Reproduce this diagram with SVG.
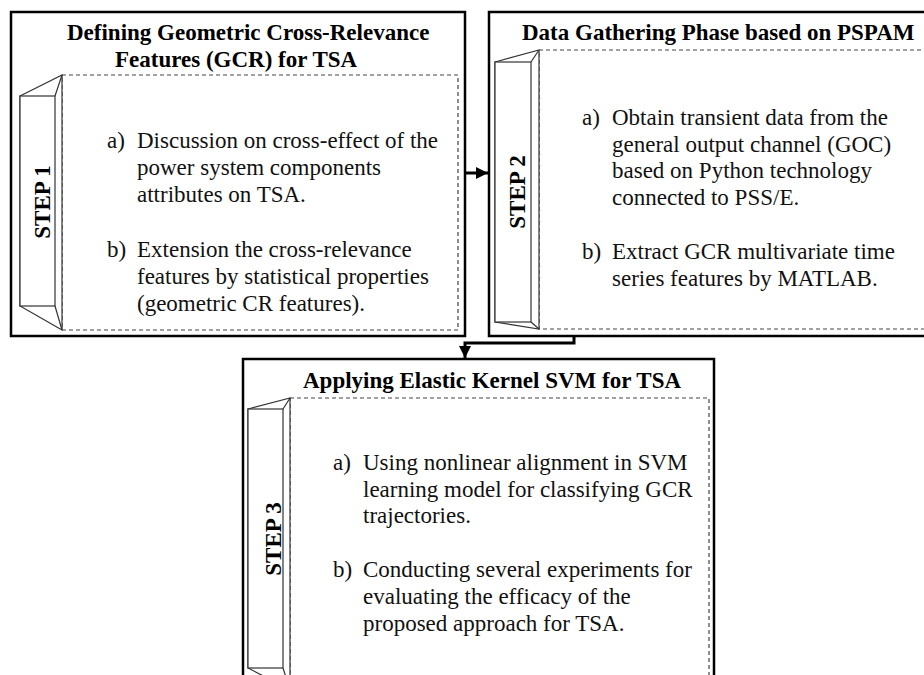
<svg xmlns="http://www.w3.org/2000/svg" width="924" height="675" viewBox="0 0 924 675">
  <style>
    .frame { fill: #fff; stroke: #000; stroke-width: 2.5; }
    .inner { fill: none; stroke: #444; stroke-width: 1.2; stroke-dasharray: 4 3; }
    .prism { fill: #fff; stroke: #333; stroke-width: 1.2; stroke-linejoin: miter; }
    text { font-family: "Liberation Serif", "Times New Roman", serif; font-size: 23px; }
    .title { font-weight: bold; fill: #000; }
    .step { font-weight: bold; fill: #000; text-anchor: middle; }
    .item { fill: #111; }
    .conn { fill: none; stroke: #000; stroke-width: 3; }
  </style>
  <defs>
    <marker id="arrow" viewBox="0 0 10 10" refX="10" refY="5" markerWidth="4" markerHeight="4" orient="auto" markerUnits="strokeWidth">
      <path d="M0,0 L10,5 L0,10 z" fill="#000"/>
    </marker>
  </defs>
  <rect width="924" height="675" fill="#fff"/>

  <!-- Step 1 -->
  <g id="step1">
    <rect class="frame" x="11" y="12" width="454" height="324"/>
    <text class="title" x="67" y="40">Defining Geometric Cross-Relevance</text>
    <text class="title" x="115" y="67">Features (GCR) for TSA</text>
    <rect class="inner" x="62" y="75" width="396" height="255"/>
    <path class="prism" d="M20,96 L62,75 L62,330 L20,306 z"/>
    <rect class="prism" x="20" y="96" width="35" height="210"/>
    <path class="prism" d="M55,96 L62,75 M55,306 L62,330"/>
    <text class="step" transform="translate(50,202) rotate(-90)">STEP 1</text>
    <text class="item" x="107" y="148">a)</text>
    <text class="item" x="137" y="148">Discussion on cross-effect of the</text>
    <text class="item" x="137" y="175">power system components</text>
    <text class="item" x="137" y="202">attributes on TSA.</text>
    <text class="item" x="107" y="257">b)</text>
    <text class="item" x="137" y="257">Extension the cross-relevance</text>
    <text class="item" x="137" y="284">features by statistical properties</text>
    <text class="item" x="137" y="311">(geometric CR features).</text>
  </g>

  <!-- Step 2 -->
  <g id="step2">
    <rect class="frame" x="489" y="12" width="450" height="324"/>
    <text class="title" x="522" y="40">Data Gathering Phase based on PSPAM</text>
    <rect class="inner" x="539" y="50" width="400" height="279"/>
    <path class="prism" d="M495,62 L539,50 L539,329 L495,322 z"/>
    <rect class="prism" x="495" y="62" width="36" height="260"/>
    <path class="prism" d="M531,62 L539,50 M531,322 L539,329"/>
    <text class="step" transform="translate(525,192) rotate(-90)">STEP 2</text>
    <text class="item" x="582" y="125">a)</text>
    <text class="item" x="612" y="125">Obtain transient data from the</text>
    <text class="item" x="612" y="152">general output channel (GOC)</text>
    <text class="item" x="612" y="178">based on Python technology</text>
    <text class="item" x="612" y="205">connected to PSS/E.</text>
    <text class="item" x="582" y="259">b)</text>
    <text class="item" x="612" y="259">Extract GCR multivariate time</text>
    <text class="item" x="612" y="286">series features by MATLAB.</text>
  </g>

  <!-- Step 3 -->
  <g id="step3">
    <rect class="frame" x="243" y="359" width="471" height="340"/>
    <text class="title" x="303" y="388">Applying Elastic Kernel SVM for TSA</text>
    <rect class="inner" x="290" y="398" width="419" height="300"/>
    <path class="prism" d="M248,409 L290,398 L290,690 L248,668 z"/>
    <rect class="prism" x="248" y="409" width="35" height="259"/>
    <path class="prism" d="M283,409 L290,398 M283,668 L290,690"/>
    <text class="step" transform="translate(281,539) rotate(-90)">STEP 3</text>
    <text class="item" x="333" y="470">a)</text>
    <text class="item" x="363" y="470">Using nonlinear alignment in SVM</text>
    <text class="item" x="363" y="497">learning model for classifying GCR</text>
    <text class="item" x="363" y="523">trajectories.</text>
    <text class="item" x="333" y="577">b)</text>
    <text class="item" x="363" y="577">Conducting several experiments for</text>
    <text class="item" x="363" y="604">evaluating the efficacy of the</text>
    <text class="item" x="363" y="631">proposed approach for TSA.</text>
  </g>

  <!-- Connectors -->
  <g id="connectors">
    <path class="conn" d="M466,173 L488,173" marker-end="url(#arrow)"/>
    <path class="conn" d="M574,337 L574,343 L465,343 L465,358" marker-end="url(#arrow)"/>
  </g>
</svg>
